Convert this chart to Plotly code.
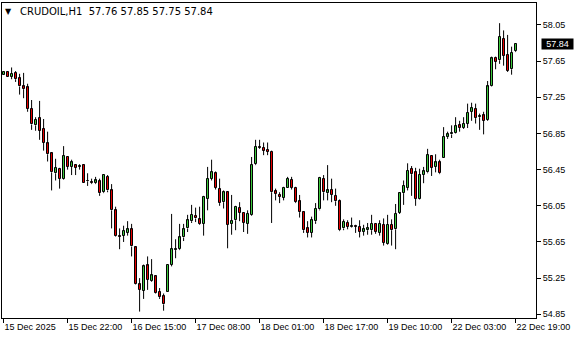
import plotly.graph_objects as go

symbol = "CRUDOIL,H1"

opens = [57.50, 57.53, 57.48, 57.52, 57.46, 57.37, 57.36, 57.12, 56.94, 57.02,
         56.90, 56.74, 56.63, 56.41, 56.46, 56.35, 56.59, 56.48, 56.50, 56.48,
         56.50, 56.32, 56.31, 56.30, 56.32, 56.20, 56.37, 56.22, 56.00, 55.72,
         55.72, 55.75, 55.79, 55.59, 55.18, 55.11, 55.39, 55.22, 55.27, 55.10,
         55.05, 55.10, 55.40, 55.56, 55.57, 55.70, 55.80, 55.88, 55.94, 55.90,
         55.85, 56.13, 56.35, 56.41, 56.24, 56.09, 56.20, 55.85, 55.89, 56.03,
         55.97, 55.85, 55.95, 56.51, 56.70, 56.69, 56.67, 56.65, 56.21, 56.17,
         56.14, 56.25, 56.34, 56.25, 56.10, 55.98, 55.80, 55.75, 55.88, 56.01,
         56.35, 56.19, 56.23, 56.16, 56.10, 55.80, 55.86, 55.82, 55.83, 55.82,
         55.76, 55.78, 55.78, 55.85, 55.75, 55.84, 55.63, 55.84, 55.79, 55.97,
         56.19, 56.25, 56.46, 56.42, 56.13, 56.39, 56.42, 56.60, 56.48, 56.53,
         56.58, 56.81, 56.84, 56.86, 56.94, 56.91, 56.96, 57.09, 57.12, 57.03,
         57.05, 57.00, 57.38, 57.69, 57.66, 57.90, 57.72, 57.56, 57.76]
highs = [57.54, 57.54, 57.58, 57.54, 57.51, 57.52, 57.40, 57.22, 57.03, 57.21,
         57.01, 56.87, 56.64, 56.57, 56.47, 56.71, 56.60, 56.56, 56.51, 56.51,
         56.51, 56.41, 56.35, 56.37, 56.35, 56.39, 56.39, 56.29, 56.04, 55.80,
         55.83, 55.88, 55.85, 55.60, 55.25, 55.40, 55.49, 55.46, 55.28, 55.14,
         55.08, 55.40, 55.96, 55.68, 55.85, 55.85, 55.95, 56.06, 56.03, 56.04,
         56.16, 56.48, 56.56, 56.43, 56.35, 56.22, 56.21, 56.17, 56.05, 56.09,
         55.98, 56.00, 56.59, 56.78, 56.78, 56.75, 56.75, 56.66, 56.24, 56.20,
         56.26, 56.37, 56.37, 56.26, 56.17, 55.99, 55.88, 55.93, 56.08, 56.37,
         56.39, 56.50, 56.35, 56.24, 56.12, 55.90, 55.89, 55.92, 55.84, 55.89,
         55.84, 55.86, 55.95, 55.86, 55.89, 55.91, 55.95, 55.90, 56.07, 56.20,
         56.33, 56.52, 56.49, 56.47, 56.46, 56.48, 56.68, 56.61, 56.62, 56.56,
         56.92, 56.87, 56.94, 57.03, 56.99, 57.03, 57.18, 57.19, 57.18, 57.07,
         57.09, 57.43, 57.70, 57.70, 58.07, 57.99, 57.94, 57.81, 57.85]
lows = [57.50, 57.47, 57.45, 57.42, 57.28, 57.24, 57.09, 56.89, 56.88, 56.78,
        56.66, 56.54, 56.22, 56.33, 56.24, 56.34, 56.45, 56.39, 56.39, 56.45,
        56.30, 56.27, 56.29, 56.29, 56.16, 56.19, 56.20, 55.80, 55.71, 55.57,
        55.65, 55.72, 55.49, 55.18, 54.88, 55.02, 55.12, 55.21, 55.08, 55.02,
        54.89, 55.10, 55.38, 55.47, 55.56, 55.66, 55.76, 55.86, 55.87, 55.84,
        55.72, 56.00, 56.33, 56.23, 56.05, 56.02, 55.58, 55.73, 55.78, 55.88,
        55.76, 55.74, 55.94, 56.50, 56.68, 56.61, 56.61, 55.86, 56.11, 56.08,
        56.11, 56.25, 56.23, 56.08, 55.92, 55.75, 55.70, 55.70, 55.85, 56.00,
        56.11, 56.11, 56.09, 56.05, 55.77, 55.78, 55.79, 55.81, 55.75, 55.70,
        55.72, 55.73, 55.73, 55.74, 55.72, 55.61, 55.62, 55.61, 55.57, 55.96,
        56.06, 56.22, 56.16, 56.05, 56.12, 56.30, 56.41, 56.38, 56.42, 56.40,
        56.58, 56.79, 56.80, 56.85, 56.87, 56.90, 56.91, 56.99, 56.96, 56.89,
        56.84, 56.99, 57.37, 57.56, 57.62, 57.60, 57.53, 57.50, 57.75]
closes = [57.53, 57.47, 57.51, 57.45, 57.37, 57.34, 57.12, 56.95, 57.00, 56.88,
          56.75, 56.62, 56.42, 56.47, 56.35, 56.60, 56.48, 56.53, 56.47, 56.49,
          56.30, 56.32, 56.30, 56.33, 56.19, 56.39, 56.22, 56.00, 55.72, 55.71,
          55.77, 55.79, 55.60, 55.19, 55.12, 55.38, 55.23, 55.28, 55.09, 55.04,
          54.96, 55.40, 55.57, 55.57, 55.70, 55.79, 55.89, 55.95, 55.91, 55.85,
          56.15, 56.35, 56.42, 56.25, 56.08, 56.20, 55.84, 55.88, 56.04, 55.97,
          55.86, 55.96, 56.50, 56.70, 56.69, 56.66, 56.65, 56.20, 56.18, 56.15,
          56.25, 56.35, 56.25, 56.09, 55.98, 55.78, 55.75, 55.89, 56.02, 56.36,
          56.20, 56.22, 56.17, 56.10, 55.78, 55.87, 55.82, 55.83, 55.82, 55.76,
          55.79, 55.80, 55.85, 55.76, 55.85, 55.64, 55.84, 55.78, 55.96, 56.19,
          56.27, 56.44, 56.40, 56.13, 56.39, 56.43, 56.61, 56.47, 56.53, 56.41,
          56.81, 56.84, 56.86, 56.93, 56.91, 56.96, 57.08, 57.13, 57.02, 57.04,
          56.99, 57.37, 57.68, 57.64, 57.92, 57.71, 57.54, 57.74, 57.84]

tick_idx = [0, 16, 32, 48, 64, 80, 96, 112, 128]
tick_labels = ["15 Dec 2025", "15 Dec 22:00", "16 Dec 15:00", "17 Dec 08:00",
               "18 Dec 01:00", "18 Dec 17:00", "19 Dec 10:00", "22 Dec 03:00",
               "22 Dec 19:00"]
price_ticks = [54.85, 55.25, 55.65, 56.05, 56.45, 56.85, 57.25, 57.65, 58.05]

GREEN = "#3cc83c"
RED = "#e60000"
FONT = "Liberation Sans, Arial, sans-serif"

x = list(range(len(opens)))
body_base = [min(o, c) for o, c in zip(opens, closes)]
body_len = [abs(c - o) for o, c in zip(opens, closes)]
body_col = [GREEN if c > o else RED for o, c in zip(opens, closes)]

# wick segments above and below each body
wx, wy = [], []
for i, (o, h, l, c) in enumerate(zip(opens, highs, lows, closes)):
    top, bot = max(o, c), min(o, c)
    wx += [i, i, None, i, i, None]
    wy += [h, top, None, bot, l, None]

fig = go.Figure()
fig.add_trace(go.Scatter(
    x=wx, y=wy, mode="lines", line=dict(color="black", width=1),
    hoverinfo="skip", connectgaps=False,
))
fig.add_trace(go.Bar(
    x=x, y=body_len, base=body_base, width=0.5,
    marker=dict(color=body_col, line=dict(color="black", width=1)),
    hoverinfo="skip",
))

fig.update_layout(
    width=580, height=340,
    margin=dict(l=2, r=44, t=3, b=22),
    paper_bgcolor="white", plot_bgcolor="white",
    showlegend=False,
    bargap=0, bargroupgap=0,
    font=dict(family=FONT, size=9, color="black"),
    xaxis=dict(
        range=[-0.4, 133.1], showgrid=False, zeroline=False,
        showline=True, linecolor="black", linewidth=1, mirror=True,
        ticks="outside", ticklen=4, tickcolor="black", tickwidth=1,
        tickvals=tick_idx, ticktext=tick_labels,
        ticklabelposition="outside right",
        tickfont=dict(family=FONT, size=9, color="black"),
        fixedrange=True,
    ),
    yaxis=dict(
        side="right", range=[54.809, 58.293], showgrid=False, zeroline=False,
        showline=True, linecolor="black", linewidth=1, mirror=True,
        ticks="outside", ticklen=4, tickcolor="black", tickwidth=1,
        tickvals=price_ticks, ticktext=[f"{v:.2f}" for v in price_ticks],
        tickfont=dict(family=FONT, size=9, color="black"),
        fixedrange=True,
    ),
)

title_text = (f"{symbol}\u00a0\u00a0{opens[-1]:.2f} {highs[-1]:.2f} "
              f"{lows[-1]:.2f} {closes[-1]:.2f}")

fig.add_annotation(x=0.0122, y=0.9746, xref="paper", yref="paper",
                   text="\u25BC", showarrow=False, xanchor="center",
                   yanchor="middle", font=dict(family="DejaVu Sans", size=8, color="black"))
fig.add_annotation(x=0.030, y=0.9746, xref="paper", yref="paper",
                   text=title_text, showarrow=False, xanchor="left",
                   yanchor="middle", font=dict(family="DejaVu Sans", size=10, color="black"))
fig.add_annotation(x=1.0094, y=closes[-1], xref="paper", yref="y",
                   text=f"{closes[-1]:.2f}", showarrow=False, xanchor="left",
                   yanchor="middle", bgcolor="black", borderpad=1,
                   width=29, height=8,
                   font=dict(family=FONT, size=9, color="white"))

fig.write_html("out.html")
